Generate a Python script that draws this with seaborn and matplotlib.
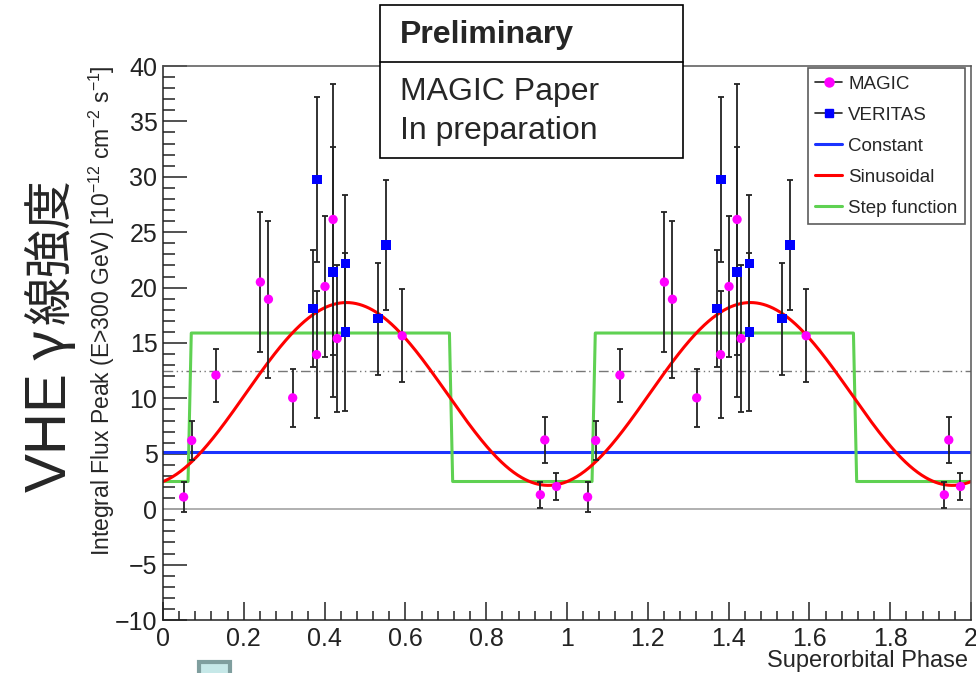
import numpy as np
import pandas as pd
import seaborn as sns
import matplotlib
matplotlib.use("Agg")
import matplotlib.pyplot as plt
from matplotlib.lines import Line2D
from matplotlib.patches import Rectangle
from matplotlib.ticker import MultipleLocator, FuncFormatter

# ---------------- data (one superorbital period, repeated for phase 1-2) ----
magic_phase = [0.051, 0.071, 0.131, 0.241, 0.261, 0.321, 0.380, 0.401, 0.421, 0.431, 0.592, 0.934, 0.945, 0.974]
magic_flux = [1.1, 6.2, 12.1, 20.5, 18.95, 10.05, 13.95, 20.1, 26.15, 15.4, 15.65, 1.3, 6.25, 2.05]
magic_err = [1.35, 1.8, 2.4, 6.35, 7.1, 2.6, 5.75, 6.35, 12.25, 6.65, 4.2, 1.15, 2.05, 1.2]

veritas_phase = [0.371, 0.381, 0.421, 0.451, 0.451, 0.532, 0.552]
veritas_flux = [18.1, 29.75, 21.4, 22.15, 16.0, 17.2, 23.85]
veritas_err = [5.25, 7.45, 11.25, 6.25, 7.1, 5.05, 5.9]

# fitted models
const_level = 5.2
mean_level = 12.5
sin_mean = 10.4
sin_amp = 8.25
sin_peak_phase = 0.454
step_low = 2.5
step_high = 15.9
step_rise = 0.062
step_fall = 0.709
step_width = 0.008

x_ticks = [0, 0.2, 0.4, 0.6, 0.8, 1, 1.2, 1.4, 1.6, 1.8, 2]
y_ticks = [-10, -5, 0, 5, 10, 15, 20, 25, 30, 35, 40]

# ---------------- styling ----------------
sns.set_style("white")
plt.rcParams['font.family'] = ['Liberation Sans', 'DejaVu Sans']
plt.rcParams['mathtext.fontset'] = 'custom'
plt.rcParams['mathtext.rm'] = 'Liberation Sans'
plt.rcParams['mathtext.it'] = 'Liberation Sans:italic'
plt.rcParams['axes.unicode_minus'] = True

fig = plt.figure(figsize=(9.76, 6.73), dpi=100)
ax = fig.add_axes([163 / 976, 1 - 620 / 673, 808 / 976, 554 / 673])

# ---------------- data frames ----------------
mp = np.asarray(magic_phase)
vp = np.asarray(veritas_phase)
magic_df = pd.DataFrame({
    'phase': np.concatenate([mp, mp + 1]),
    'flux': np.tile(magic_flux, 2),
    'err': np.tile(magic_err, 2),
    'instrument': 'MAGIC'})
veritas_df = pd.DataFrame({
    'phase': np.concatenate([vp, vp + 1]),
    'flux': np.tile(veritas_flux, 2),
    'err': np.tile(veritas_err, 2),
    'instrument': 'VERITAS'})
df = pd.concat([magic_df, veritas_df], ignore_index=True)

# ---------------- reference lines ----------------
ax.axhline(0, color='#aaaaaa', lw=1.3, zorder=1)
ax.axhline(mean_level, color='#777777', lw=1.0, dashes=(7, 2.5, 1, 2.5, 1, 2.5), zorder=1)

# ---------------- model curves ----------------
grid = np.linspace(0, 2, 1001)
sin_df = pd.DataFrame({'phase': grid,
                       'flux': sin_mean + sin_amp * np.cos(2 * np.pi * (grid - sin_peak_phase))})
const_df = pd.DataFrame({'phase': [0, 2], 'flux': [const_level, const_level]})
step_x, step_y = [0.0], [step_low]
for k in (0, 1):
    step_x += [k + step_rise, k + step_rise + step_width, k + step_fall, k + step_fall + step_width]
    step_y += [step_low, step_high, step_high, step_low]
step_x.append(2.0)
step_y.append(step_low)
step_df = pd.DataFrame({'phase': step_x, 'flux': step_y})

sns.lineplot(data=const_df, x='phase', y='flux', color='#1a33ff', lw=2.2, ax=ax,
             estimator=None, sort=False, zorder=2)
sns.lineplot(data=step_df, x='phase', y='flux', color='#5fd152', lw=2.2, ax=ax,
             estimator=None, sort=False, zorder=2)
sns.lineplot(data=sin_df, x='phase', y='flux', color='#ff0000', lw=2.2, ax=ax,
             estimator=None, sort=False, zorder=2)

# ---------------- data points ----------------
ax.errorbar(df['phase'], df['flux'], yerr=df['err'], fmt='none', ecolor='#222222',
            elinewidth=1.3, capsize=2.2, capthick=1.3, zorder=3)
sns.scatterplot(data=df, x='phase', y='flux', hue='instrument', style='instrument',
                markers={'MAGIC': 'o', 'VERITAS': 's'},
                palette={'MAGIC': '#ff00ff', 'VERITAS': '#0000ff'},
                s=45, edgecolor='none', linewidth=0, legend=False, ax=ax, zorder=4)

# ---------------- axes ----------------
ax.set_xlim(0, 2)
ax.set_ylim(-10, 40)
ax.set_xticks(x_ticks)
ax.set_yticks(y_ticks)
ax.xaxis.set_major_formatter(FuncFormatter(lambda v, p: f'{v:g}'))
ax.xaxis.set_minor_locator(MultipleLocator(0.04))
ax.yaxis.set_minor_locator(MultipleLocator(1))
ax.tick_params(axis='both', which='both', direction='in', top=False, right=False,
               bottom=True, left=True, colors='#222222')
ax.tick_params(axis='y', which='major', length=17, width=1.1, labelsize=18, pad=4)
ax.tick_params(axis='y', which='minor', length=8.5, width=1.1)
ax.tick_params(axis='x', which='major', length=13, width=1.1, labelsize=18, pad=5)
ax.tick_params(axis='x', which='minor', length=6.5, width=1.1)
for s in ax.spines.values():
    s.set_color('#555555')
    s.set_linewidth(1.1)
ax.spines['left'].set_color('#222222')
ax.spines['bottom'].set_color('#222222')

ax.set_ylabel(r'Integral Flux Peak (E>300 GeV) [10$^{-12}$ cm$^{-2}$ s$^{-1}$]', fontsize=16.5)
ax.yaxis.label.set_va('center')
ax.yaxis.set_label_coords(-0.0755, 0.558)
ax.set_xlabel('Superorbital Phase', fontsize=17, ha='right', va='center')
ax.xaxis.set_label_coords(0.9963, -0.074)

# ---------------- legend ----------------
handles = [
    Line2D([], [], color='#222222', lw=1.2, marker='o', markersize=6.5,
           markerfacecolor='#ff00ff', markeredgecolor='#ff00ff', label='MAGIC'),
    Line2D([], [], color='#222222', lw=1.2, marker='s', markersize=6,
           markerfacecolor='#0000ff', markeredgecolor='#0000ff', label='VERITAS'),
    Line2D([], [], color='#1a33ff', lw=2.2, label='Constant'),
    Line2D([], [], color='#ff0000', lw=2.2, label='Sinusoidal'),
    Line2D([], [], color='#5fd152', lw=2.2, label='Step function'),
]
leg = ax.legend(handles=handles, loc='upper left', bbox_to_anchor=(0.798, 0.996),
                fontsize=13.5, frameon=True, fancybox=False, edgecolor='#333333',
                handlelength=1.45, handletextpad=0.3, labelspacing=0.74,
                borderpad=0.4, borderaxespad=0)
leg.get_frame().set_linewidth(1.2)
leg.set_zorder(6)

# ---------------- annotations ----------------
fig.text(51 / 976, 1 - 492 / 673, 'VHE', rotation=90, fontsize=42,
         ha='center', va='bottom', family=['Liberation Sans'])
fig.text(49 / 976, 1 - 345 / 673, 'γ', rotation=90, fontsize=40,
         ha='center', va='center', family=['Noto Sans CJK JP', 'DejaVu Sans'])
fig.text(50 / 976, 1 - 251 / 673, '線強度', rotation=90, fontsize=35,
         ha='center', va='center', family=['Noto Sans CJK JP', 'DejaVu Sans'])

fig.add_artist(Rectangle((380 / 976, 1 - 158 / 673), 303 / 976, 153 / 673,
                         transform=fig.transFigure, facecolor='white',
                         edgecolor='black', lw=1.2, zorder=10))
fig.add_artist(Line2D([380 / 976, 683 / 976], [1 - 62 / 673, 1 - 62 / 673],
                      transform=fig.transFigure, color='black', lw=1.2, zorder=11))
fig.text(400 / 976, 1 - 35 / 673, 'Preliminary', fontsize=23, fontweight='bold',
         ha='left', va='center', zorder=12)
fig.text(400 / 976, 1 - 92 / 673, 'MAGIC Paper', fontsize=23,
         ha='left', va='center', zorder=12)
fig.text(400 / 976, 1 - 131 / 673, 'In preparation', fontsize=23,
         ha='left', va='center', zorder=12)

# small slide icon peeking in at the bottom
fig.add_artist(Rectangle((199 / 976, -0.02), 31 / 976, 11 / 673 + 0.02,
                         transform=fig.transFigure, facecolor='#c6e8e8',
                         edgecolor='#7f9e9e', lw=3, zorder=10))

fig.savefig('out.png', dpi=100)
